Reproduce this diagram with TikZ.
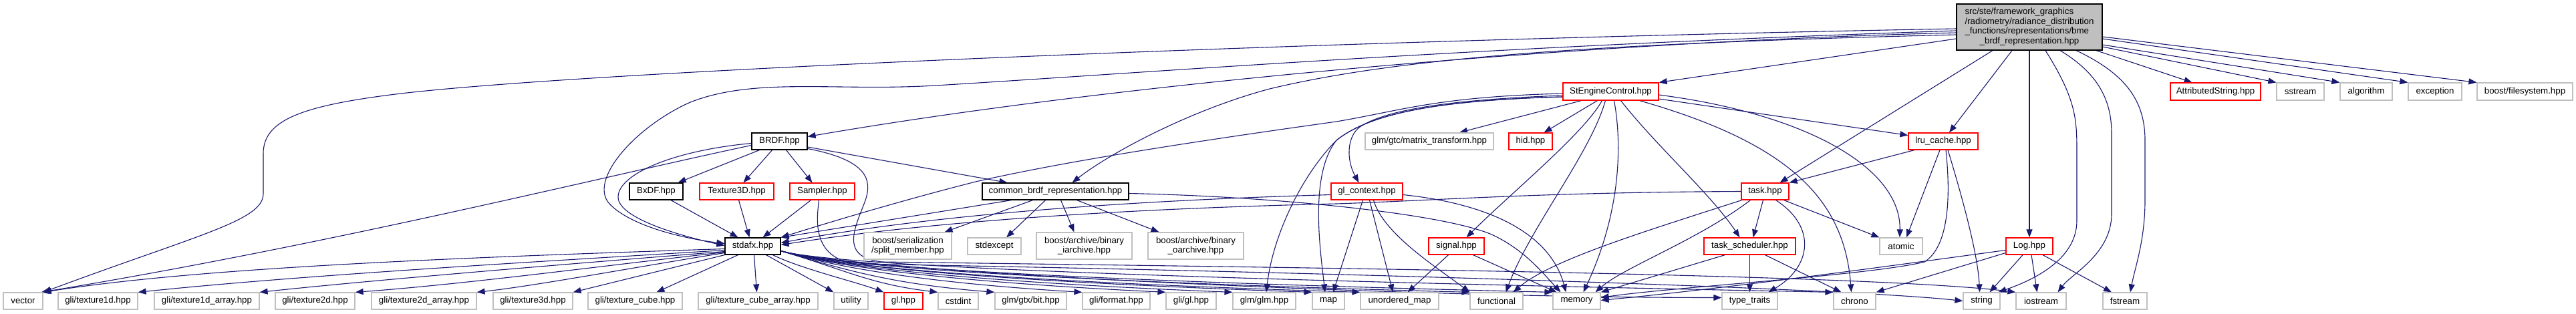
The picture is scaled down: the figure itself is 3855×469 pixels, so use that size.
\documentclass[tikz,border=0pt]{standalone}
\usepackage{fontspec}
\setmainfont{Liberation Sans}
\usetikzlibrary{arrows.meta,backgrounds}
\definecolor{edgec}{RGB}{25,25,112}
\definecolor{greyb}{RGB}{191,191,191}
\definecolor{redb}{RGB}{255,0,0}
\tikzset{
 box/.style={draw, rectangle, inner sep=0pt, fill=white, line width=1.2pt, font=\fontsize{13.3}{14.6}\selectfont, align=center},
 sysbox/.style={box, draw=greyb},
 redbox/.style={box, draw=redb},
 prjbox/.style={box, draw=black},
 wh/.style 2 args={minimum width=#1, minimum height=#2},
 ed/.style={draw=edgec, line width=1.1pt, -{Triangle[length=12pt,width=9pt]}},
}
\begin{document}
\begin{tikzpicture}[x=1pt,y=-1pt]
\useasboundingbox (0,0) rectangle (3855,469);
% ---------- main
\node[prjbox, fill=greyb, wh={218}{69}] (main) at (3037,40.5) {\begin{tabular}{@{}l@{}}src/ste/framework\_graphics\\/radiometry/radiance\_distribution\\\_functions/representations/bme\\\multicolumn{1}{@{}c@{}}{\_brdf\_representation.hpp}\end{tabular}};
% ---------- row 1
\node[redbox, wh={143}{26}] (StEng) at (2410.5,137) {StEngineControl.hpp};
\node[redbox, wh={135}{26}] (AttrStr) at (3315.5,137) {AttributedString.hpp};
\node[sysbox, wh={71}{26}] (sstream) at (3442.5,137) {sstream};
\node[sysbox, wh={78}{26}] (algorithm) at (3541,137) {algorithm};
\node[sysbox, wh={80}{26}] (exception) at (3644,137) {exception};
\node[sysbox, wh={143}{26}] (filesystem) at (3778.5,137) {boost/filesystem.hpp};
% ---------- row 2
\node[prjbox, wh={83}{25}] (BRDF) at (1166.5,211.5) {BRDF.hpp};
\node[sysbox, wh={192}{25}] (matrix) at (2139,211.5) {glm/gtc/matrix\_transform.hpp};
\node[redbox, wh={65}{25}] (hid) at (2290.5,211.5) {hid.hpp};
\node[redbox, wh={104}{25}] (lru) at (2908,211.5) {lru\_cache.hpp};
% ---------- row 3
\node[prjbox, wh={80}{25}] (BxDF) at (982,286.5) {BxDF.hpp};
\node[redbox, wh={111}{25}] (Tex3D) at (1102.5,286.5) {Texture3D.hpp};
\node[redbox, wh={97}{25}] (Sampler) at (1230.5,286.5) {Sampler.hpp};
\node[prjbox, wh={219}{25}] (common) at (1579.5,286.5) {common\_brdf\_representation.hpp};
\node[redbox, wh={107}{25}] (glctx) at (2045.5,286.5) {gl\_context.hpp};
\node[redbox, wh={71}{25}] (task) at (2641.5,286.5) {task.hpp};
% ---------- row 4
\node[prjbox, wh={83}{25}] (stdafx) at (1126.5,368.5) {stdafx.hpp};
\node[sysbox, wh={131}{40}] (split) at (1358.5,368) {boost/serialization\\/split\_member.hpp};
\node[sysbox, wh={80}{25}] (stdexcept) at (1488,368.5) {stdexcept};
\node[sysbox, wh={143}{40}] (iarch) at (1622.5,368) {boost/archive/binary\\\_iarchive.hpp};
\node[sysbox, wh={143}{40}] (oarch) at (1789.5,368) {boost/archive/binary\\\_oarchive.hpp};
\node[redbox, wh={83}{25}] (signal) at (2179.5,368.5) {signal.hpp};
\node[redbox, wh={137}{25}] (tsched) at (2618.5,368.5) {task\_scheduler.hpp};
\node[sysbox, wh={64}{25}] (atomic) at (2845,368.5) {atomic};
\node[redbox, wh={70}{25}] (Log) at (3037,368.5) {Log.hpp};
% ---------- row 5
\node[sysbox, wh={59}{25}] (vector) at (34.5,450.5) {vector};
\node[sysbox, wh={119}{25}] (tex1d) at (146.5,450.5) {gli/texture1d.hpp};
\node[sysbox, wh={157}{25}] (tex1da) at (309.5,450.5) {gli/texture1d\_array.hpp};
\node[sysbox, wh={119}{25}] (tex2d) at (471.5,450.5) {gli/texture2d.hpp};
\node[sysbox, wh={157}{25}] (tex2da) at (634.5,450.5) {gli/texture2d\_array.hpp};
\node[sysbox, wh={119}{25}] (tex3d) at (797.5,450.5) {gli/texture3d.hpp};
\node[sysbox, wh={141}{25}] (texcube) at (950.5,450.5) {gli/texture\_cube.hpp};
\node[sysbox, wh={179}{25}] (texcubea) at (1134.5,450.5) {gli/texture\_cube\_array.hpp};
\node[sysbox, wh={51}{25}] (utility) at (1273.5,450.5) {utility};
\node[redbox, wh={58}{25}] (glhpp) at (1352,450.5) {gl.hpp};
\node[sysbox, wh={60}{25}] (cstdint) at (1434,450.5) {cstdint};
\node[sysbox, wh={107}{25}] (gtxbit) at (1542.5,450.5) {glm/gtx/bit.hpp};
\node[sysbox, wh={101}{25}] (format) at (1670.5,450.5) {gli/format.hpp};
\node[sysbox, wh={75}{25}] (gligl) at (1782.5,450.5) {gli/gl.hpp};
\node[sysbox, wh={94}{25}] (glm) at (1892,450.5) {glm/glm.hpp};
\node[sysbox, wh={48}{25}] (map) at (1988,450.5) {map};
\node[sysbox, wh={117}{25}] (umap) at (2094.5,450.5) {unordered\_map};
\node[sysbox, wh={79}{25}] (functional) at (2239.5,450.5) {functional};
\node[sysbox, wh={71}{25}] (memory) at (2359.5,450.5) {memory};
\node[sysbox, wh={83}{25}] (typetraits) at (2618.5,450.5) {type\_traits};
\node[sysbox, wh={63}{25}] (chrono) at (2775.5,450.5) {chrono};
\node[sysbox, wh={55}{25}] (string) at (2965.5,450.5) {string};
\node[sysbox, wh={75}{25}] (iostream) at (3054.5,450.5) {iostream};
\node[sysbox, wh={66}{25}] (fstream) at (3180,450.5) {fstream};

\begin{scope}[on background layer]
% ---------- main
\draw[ed] ([yshift=-2.5]main.west) .. controls (2000,60) and (900,105) .. (600,140) .. controls (450,158) and (394,180) .. (394,230) -- (394,290) .. controls (394,330) and (300,350) .. (vector.north east);
\draw[ed] ([yshift=-5.5]main.west) .. controls (2200,70) and (1700,110) .. (1400,128) .. controls (1250,137) and (1130,115) .. (1033,153) .. controls (950,190) and (880,270) .. (912,305) .. controls (945,340) and (1030,358) .. ([yshift=4]stdafx.west);
\draw[ed] ([yshift=-8.5]main.west) .. controls (2400,62) and (1700,120) .. ([yshift=7]BRDF.east);
\draw[ed] ([yshift=-11.5]main.west) .. controls (2400,65) and (2100,85) .. (1900,133) .. controls (1780,165) and (1660,230) .. ([xshift=25]common.north);
\draw[ed] ([yshift=-17.5]main.west) -- (StEng.north east);
\draw[ed] ([xshift=-55]main.south) -- ([xshift=22]task.north);
\draw[ed] ([xshift=-26]main.south) -- ([xshift=9]lru.north);
\draw[ed] (main.south) -- (Log.north);
\draw[ed] ([xshift=24]main.south) .. controls (3108,150) and (3108,180) .. (3108,230) -- (3108,330) .. controls (3108,390) and (3040,420) .. ([xshift=25]string.north);
\draw[ed] ([xshift=46]main.south) .. controls (3140,110) and (3160,150) .. (3160,200) -- (3160,320) .. controls (3160,380) and (3100,410) .. ([xshift=25]iostream.north);
\draw[ed] ([xshift=70]main.south) .. controls (3180,110) and (3210,150) .. (3210,210) -- (3210,300) .. controls (3210,360) and (3195,400) .. ([xshift=8]fstream.north);
\draw[ed] ([xshift=100]main.south) -- ([xshift=-35]AttrStr.north);
\draw[ed] ([yshift=-14.5]main.east) -- (filesystem.north west);
\draw[ed] ([yshift=-17.5]main.east) -- (exception.north west);
\draw[ed] ([yshift=-26.5]main.east) -- (algorithm.north west);
\draw[ed] ([yshift=-29.5]main.east) -- (sstream.north west);
% ---------- BRDF
\draw[ed] ([yshift=-6]BRDF.west) .. controls (900,265) and (500,365) .. ([xshift=-3]vector.north east);
\draw[ed] ([yshift=-3]BRDF.west) .. controls (1010,225) and (925,260) .. (925,295) .. controls (925,330) and (1040,358) .. ([yshift=1]stdafx.west);
\draw[ed] ([xshift=-30]BRDF.south) -- ([xshift=-8]BxDF.north east);
\draw[ed] ([xshift=-11]BRDF.south) -- ([xshift=10]Tex3D.north);
\draw[ed] ([xshift=10]BRDF.south) -- ([xshift=-15]Sampler.north);
\draw[ed] ([yshift=-8.5]BRDF.east) -- ([xshift=-72]common.north);
\draw[ed] ([yshift=-11]BRDF.east) .. controls (1300,240) and (1305,270) .. (1295,300) .. controls (1280,340) and (1255,385) .. (1320,392) .. controls (1900,400) and (2800,410) .. (iostream.north west);
% ---------- row 3 to stdafx
\draw[ed] ([xshift=22]BxDF.south) -- ([xshift=-22]stdafx.north);
\draw[ed] ([xshift=3]Tex3D.south) -- ([xshift=-5]stdafx.north);
\draw[ed] ([xshift=-17]Sampler.south) -- ([xshift=15]stdafx.north);
\draw[ed] ([xshift=-5]Sampler.south) .. controls (1222,330) and (1215,385) .. (1280,395) .. controls (1900,405) and (2750,430) .. (string.west);
% ---------- common
\draw[ed] ([xshift=-66]common.south) -- (stdafx.north east);
\draw[ed] ([xshift=-34]common.south) -- ([xshift=55]split.north);
\draw[ed] ([xshift=-15]common.south) -- ([xshift=18]stdexcept.north);
\draw[ed] ([xshift=8]common.south) -- ([xshift=-15]iarch.north);
\draw[ed] ([xshift=32]common.south) -- ([xshift=-55]oarch.north);
\draw[ed] ([yshift=-3]common.east) .. controls (1900,294) and (2150,318) .. (2230,350) .. controls (2280,372) and (2310,410) .. ([xshift=-24]memory.north);
% ---------- stdafx fan
\draw[ed] ([yshift=-4]stdafx.west) .. controls (700,385) and (300,400) .. (vector.north east);
\draw[ed] ([yshift=-6]stdafx.west) .. controls (800,392) and (450,412) .. (tex1d.north east);
\draw[ed] ([yshift=-8]stdafx.west) .. controls (850,395) and (550,420) .. (tex1da.north east);
\draw[ed] ([yshift=-9]stdafx.west) .. controls (900,398) and (700,425) .. (tex2d.north east);
\draw[ed] ([yshift=-10]stdafx.west) .. controls (950,400) and (800,428) .. (tex2da.north east);
\draw[ed] (stdafx.south west) -- (tex3d.north east);
\draw[ed] ([xshift=-22]stdafx.south) -- ([xshift=32]texcube.north);
\draw[ed] ([xshift=2]stdafx.south) -- ([xshift=-2]texcubea.north);
\draw[ed] ([xshift=20]stdafx.south) -- (utility.north west);
\draw[ed] ([xshift=30]stdafx.south) .. controls +(40,20) and +(-40,-15) .. (glhpp.north west);
\foreach \t/\d in {cstdint/100, gtxbit/150, format/200, gligl/250, glm/300, map/350, umap/400, functional/450, memory/500, chrono/600}
  \draw[ed] ([yshift=-7]stdafx.east) .. controls +(100,30) and +(-\d,-12) .. (\t.north west);
\draw[ed] ([yshift=-7]stdafx.east) .. controls +(100,30) and +(-500,0) .. ([yshift=5]typetraits.west);
% ---------- StEngineControl
\draw[ed] ([yshift=-3]StEng.west) .. controls (2150,145) and (2100,165) .. (2000,182) .. controls (1800,210) and (1600,240) .. (1460,272) .. controls (1350,300) and (1250,330) .. (stdafx.north east);
\draw[ed] ([yshift=-6]StEng.west) .. controls (2200,148) and (2080,160) .. (2035,190) .. controls (2015,205) and (2015,240) .. ([xshift=-12]glctx.north);
\draw[ed] ([yshift=-8]StEng.west) .. controls (2150,150) and (2050,170) .. (2000,210) .. controls (1950,260) and (1905,350) .. ([xshift=3]glm.north);
\draw[ed] ([yshift=-8]StEng.west) .. controls (2150,150) and (2050,170) .. (2000,210) .. controls (1960,260) and (1975,370) .. ([xshift=-5]map.north);
\draw[ed] ([xshift=-44]StEng.south) -- ([xshift=45]matrix.north);
\draw[ed] ([xshift=-20]StEng.south) -- ([xshift=20]hid.north);
\draw[ed] ([xshift=-13]StEng.south) .. controls (2370,200) and (2260,290) .. ([xshift=15]signal.north);
\draw[ed] ([xshift=-8]StEng.south) .. controls (2380,230) and (2290,340) .. ([xshift=14]functional.north);
\draw[ed] ([xshift=5]StEng.south) .. controls (2430,230) and (2420,330) .. ([xshift=10]memory.north);
\draw[ed] ([xshift=15]StEng.south) .. controls (2480,220) and (2560,290) .. ([xshift=-15]tsched.north);
\draw[ed] ([xshift=43]StEng.south) .. controls (2680,215) and (2760,300) .. ([xshift=-5]chrono.north);
\draw[ed] ([yshift=-5]StEng.east) .. controls (2700,170) and (2845,250) .. ([xshift=-2]atomic.north);
\draw[ed] ([yshift=-11]StEng.east) -- ([yshift=9]lru.west);
% ---------- gl_context
\draw[ed] ([yshift=-5]glctx.west) .. controls (1700,300) and (1400,320) .. ([yshift=5]stdafx.east);
\draw[ed] ([xshift=-6]glctx.south) -- ([xshift=7]map.north);
\draw[ed] ([xshift=4]glctx.south) -- ([xshift=-10]umap.north);
\draw[ed] ([xshift=10]glctx.south) .. controls (2070,350) and (2150,400) .. (functional.north west);
\draw[ed] ([yshift=-5]glctx.east) .. controls (2230,305) and (2320,350) .. ([xshift=-16]memory.north);
% ---------- signal
\draw[ed] ([xshift=-12]signal.south) -- ([xshift=12]umap.north);
\draw[ed] ([xshift=25]signal.south) -- ([xshift=-30]memory.north);
% ---------- task
\draw[ed] (task.west) .. controls (2300,288) and (2150,300) .. (2000,305) .. controls (1700,312) and (1400,330) .. ([yshift=2]stdafx.east);
\draw[ed] ([xshift=-3]task.south) -- ([xshift=5]tsched.north);
\draw[ed] ([xshift=-35]task.south) .. controls (2450,350) and (2320,390) .. ([xshift=25]functional.north);
\draw[ed] ([xshift=-22]task.south) .. controls (2540,360) and (2430,400) .. ([xshift=28]memory.north);
\draw[ed] ([xshift=16]task.south) .. controls (2720,340) and (2710,400) .. ([xshift=28]typetraits.north);
\draw[ed] ([xshift=28]task.south) -- (atomic.north west);
% ---------- task_scheduler
\draw[ed] ([xshift=-37]tsched.south) -- (memory.north east);
\draw[ed] (tsched.south) -- (typetraits.north);
\draw[ed] ([xshift=23]tsched.south) -- ([xshift=-20]chrono.north);
% ---------- lru_cache
\draw[ed] ([xshift=-43]lru.south) -- (task.north east);
\draw[ed] ([xshift=-5]lru.south) -- ([xshift=8]atomic.north);
\draw[ed] ([xshift=7]lru.south) .. controls (2935,290) and (2960,380) .. ([xshift=-3]string.north);
\draw[ed] ([xshift=4]lru.south) .. controls (2920,300) and (2915,370) .. (2880,392) .. controls (2800,412) and (2500,430) .. ([yshift=5]memory.east);
% ---------- Log
\draw[ed] ([yshift=-10]Log.west) -- (chrono.north east);
\draw[ed] ([yshift=-6]Log.west) .. controls (2850,395) and (2600,430) .. ([yshift=1]memory.east);
\draw[ed] ([xshift=-10]Log.south) -- ([xshift=12]string.north);
\draw[ed] ([xshift=3]Log.south) -- ([xshift=-6]iostream.north);
\draw[ed] ([xshift=20]Log.south) -- ([xshift=-20]fstream.north);
\end{scope}
\end{tikzpicture}
\end{document}
